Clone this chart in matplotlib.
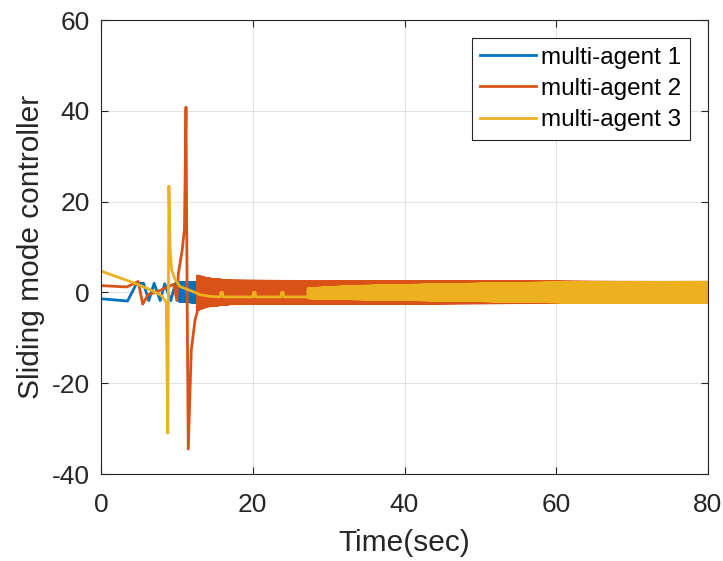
import numpy as np
import matplotlib
matplotlib.use("Agg")
import matplotlib.pyplot as plt

plt.rcParams['font.family'] = ['Liberation Sans', 'DejaVu Sans']
plt.rcParams['axes.unicode_minus'] = False

# colours (MATLAB default order)
c1, c2, c3 = '#0072BD', '#D95319', '#EDB120'

# --- multi-agent 1: transient part, then chattering envelope
t1 = [0, 3.5, 4.7, 5.6, 6.3, 7.0, 7.8, 8.4, 9.2, 9.8, 10.3]
u1 = [-1.4, -1.9, 2.0, 2.0, -1.8, 2.0, -1.8, 1.9, -1.8, 2.0, -1.8]
env1_t = [10.3, 12.7, 80]
env1_hi = [2.1, 2.2, 2.2]
env1_lo = [-1.9, -2.2, -2.2]

# --- multi-agent 2
t2 = [0, 3.4, 4.9, 5.5, 6.2, 7.6, 8.8, 9.6, 10.0, 10.2, 10.7, 11.0, 11.2,
      11.35, 11.5, 11.9, 12.4, 12.7]
u2 = [1.5, 1.2, 2.4, -2.6, -0.5, 0.3, 1.2, 1.8, -1.8, 4.2, 9.3, 14.0, 40.8,
      0.0, -34.5, -12.7, -6.0, -4.2]
env2_t = [12.7, 14, 17, 30, 50, 65, 80]
env2_hi = [3.6, 3.0, 2.5, 2.4, 2.35, 2.25, 2.2]
env2_lo = [-3.8, -3.0, -2.5, -2.4, -2.3, -2.2, -2.15]

# --- multi-agent 3
t3 = [0, 4.0, 6.2, 7.9, 8.6, 8.8, 8.95, 9.1, 9.3, 9.75, 10.4, 12.4, 13.0,
      14.5, 15.7, 15.8, 16.0, 16.1, 20.0, 20.1, 20.3, 20.4, 23.7, 23.8,
      24.0, 24.1, 27.3]
u3 = [4.7, 2.3, 0.8, -0.6, -2.1, -31.0, 23.4, 10.0, 5.0, 2.9, 1.3, 0.0, -0.5,
      -0.9, -1.0, 0.0, 0.0, -1.0, -1.0, 0.0, 0.0, -1.0, -1.0, 0.0,
      0.0, -1.0, -1.0]
env3_t = [27.3, 33, 45, 56, 65, 80]
env3_hi = [0.8, 1.3, 1.7, 2.0, 2.2, 2.25]
env3_lo = [-1.2, -1.4, -1.7, -2.0, -2.2, -2.25]

dt = 0.02


def chatter(t0, u0, et, ehi, elo):
    # switching signal between the read-off upper / lower envelopes
    tc = np.arange(et[0], et[-1] + dt, dt)
    hi = np.interp(tc, et, ehi)
    lo = np.interp(tc, et, elo)
    uc = np.where(np.arange(len(tc)) % 2 == 0, hi, lo)
    return np.concatenate([t0, tc]), np.concatenate([u0, uc])


fig = plt.figure(figsize=(7.23, 5.61), dpi=100)
ax = fig.add_axes([101 / 723, 1 - 474 / 561, 607 / 723, 454 / 561])

lw = 2.0
x, y = chatter(t1, u1, env1_t, env1_hi, env1_lo)
ax.plot(x, y, color=c1, lw=lw, label='multi-agent 1')
x, y = chatter(t2, u2, env2_t, env2_hi, env2_lo)
ax.plot(x, y, color=c2, lw=lw, label='multi-agent 2')
x, y = chatter(t3, u3, env3_t, env3_hi, env3_lo)
ax.plot(x, y, color=c3, lw=lw, label='multi-agent 3')

ax.set_xlim(0, 80)
ax.set_ylim(-40, 60)
ax.set_xticks([0, 20, 40, 60, 80])
ax.set_yticks([-40, -20, 0, 20, 40, 60])
ax.grid(True, color='#e3e3e3', lw=0.8)
ax.set_axisbelow(True)
ax.tick_params(direction='in', length=5, labelsize=19, colors='#262626',
               top=True, right=True)
ax.tick_params(axis='x', pad=14)
ax.tick_params(axis='y', pad=8)
for s in ax.spines.values():
    s.set_color('#262626')
    s.set_linewidth(0.8)

ax.set_xlabel('Time(sec)', fontsize=21.5, color='#262626', labelpad=8)
ax.set_ylabel('Sliding mode controller', fontsize=21.5, color='#262626',
              labelpad=5)

leg = ax.legend(loc='upper right', fontsize=17.5, fancybox=False,
                framealpha=1, edgecolor='#262626', handlelength=2.3,
                borderaxespad=0.75, labelspacing=0.38, handletextpad=0.2,
                borderpad=0.35)
leg.get_frame().set_linewidth(0.8)

fig.savefig('out.png', dpi=100)
